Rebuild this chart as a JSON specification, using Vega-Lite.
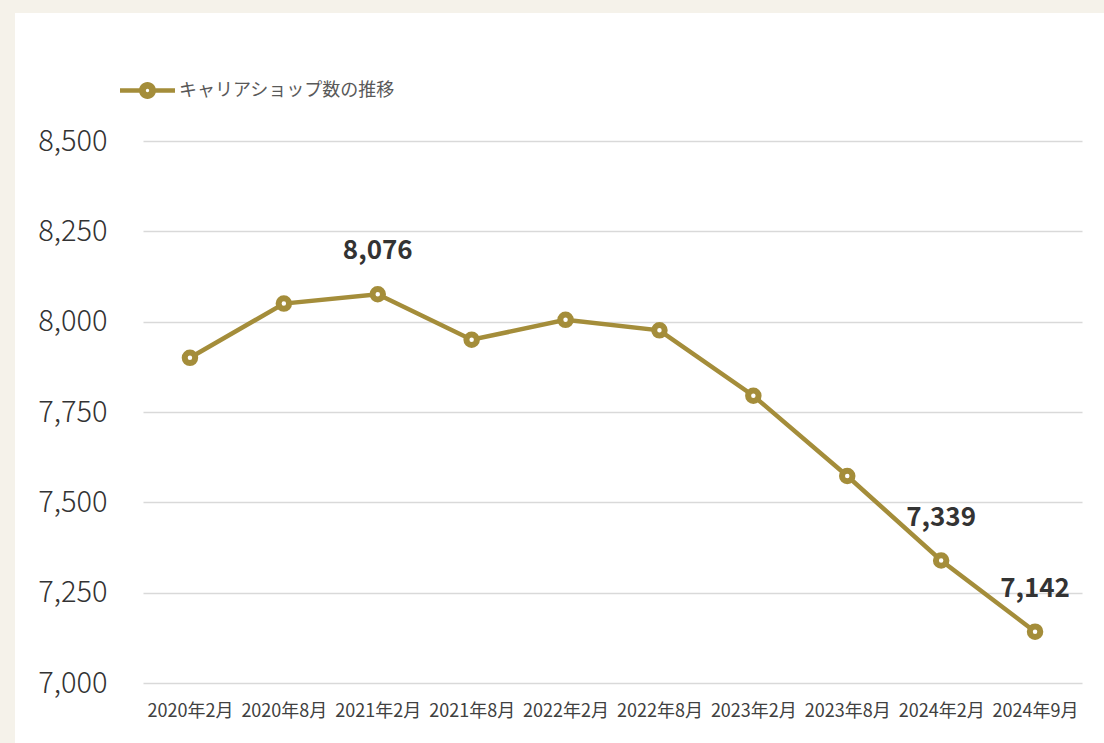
{
  "$schema": "https://vega.github.io/schema/vega-lite/v6.json",
  "width": 939,
  "height": 542,
  "autosize": {"type": "none"},
  "padding": {"left": 143, "top": 141, "right": 22, "bottom": 60},
  "background": "#f5f2ea",
  "view": {"fill": "white", "stroke": "white", "strokeWidth": 256},
  "config": {
    "font": "Noto Sans CJK JP",
    "axis": {"labelFont": "Noto Sans CJK JP"},
    "legend": {"labelFont": "Noto Sans CJK JP"}
  },
  "data": {
    "values": [
      {"period": "2020年2月", "shops": 7900, "series": "キャリアショップ数の推移", "label": ""},
      {"period": "2020年8月", "shops": 8050, "series": "キャリアショップ数の推移", "label": ""},
      {"period": "2021年2月", "shops": 8076, "series": "キャリアショップ数の推移", "label": "8,076"},
      {"period": "2021年8月", "shops": 7950, "series": "キャリアショップ数の推移", "label": ""},
      {"period": "2022年2月", "shops": 8005, "series": "キャリアショップ数の推移", "label": ""},
      {"period": "2022年8月", "shops": 7976, "series": "キャリアショップ数の推移", "label": ""},
      {"period": "2023年2月", "shops": 7795, "series": "キャリアショップ数の推移", "label": ""},
      {"period": "2023年8月", "shops": 7573, "series": "キャリアショップ数の推移", "label": ""},
      {"period": "2024年2月", "shops": 7339, "series": "キャリアショップ数の推移", "label": "7,339"},
      {"period": "2024年9月", "shops": 7142, "series": "キャリアショップ数の推移", "label": "7,142"}
    ]
  },
  "encoding": {
    "x": {
      "field": "period",
      "type": "ordinal",
      "sort": null,
      "scale": {"type": "point", "padding": 0.5},
      "axis": {
        "title": null,
        "labelAngle": 0,
        "ticks": false,
        "domain": false,
        "grid": false,
        "labelFontSize": 18,
        "labelColor": "#404040",
        "labelPadding": 19
      }
    },
    "y": {
      "field": "shops",
      "type": "quantitative",
      "scale": {"domain": [7000, 8500], "nice": false, "zero": false},
      "axis": {
        "title": null,
        "values": [7000, 7250, 7500, 7750, 8000, 8250, 8500],
        "format": ",.0f",
        "ticks": false,
        "domain": false,
        "grid": true,
        "gridColor": "#d9d9d9",
        "gridWidth": 1.5,
        "labelFontSize": 29,
        "labelFontWeight": 300,
        "labelColor": "#333333",
        "labelPadding": 36
      }
    }
  },
  "layer": [
    {
      "mark": {"type": "line", "strokeWidth": 4.5},
      "encoding": {
        "color": {
          "field": "series",
          "type": "nominal",
          "scale": {"range": ["#a48d3a"]},
          "legend": {
            "title": null,
            "orient": "none",
            "legendX": -23,
            "legendY": -78,
            "symbolType": "M-1,-0.085 L-0.3,-0.085 L-0.3,0.085 L-1,0.085 Z M0.3,-0.085 L1,-0.085 L1,0.085 L0.3,0.085 Z M0.31,0 A0.31,0.31 0 1,1 -0.31,0 A0.31,0.31 0 1,1 0.31,0 Z M0.06,0 A0.06,0.06 0 1,0 -0.06,0 A0.06,0.06 0 1,0 0.06,0 Z",
            "symbolSize": 3025,
            "symbolStrokeWidth": 0,
            "labelFontSize": 18,
            "labelLimit": 500,
            "labelColor": "#595959",
            "labelOffset": 4,
            "encode": {
              "symbols": {
                "update": {
                  "fill": {"value": "#a48d3a"},
                  "stroke": {"value": "transparent"},
                  "strokeWidth": {"value": 0},
                  "opacity": {"value": 1}
                }
              }
            }
          }
        }
      }
    },
    {
      "mark": {
        "type": "point",
        "shape": "circle",
        "filled": true,
        "fill": "white",
        "stroke": "#a48d3a",
        "strokeWidth": 6,
        "size": 110,
        "opacity": 1
      }
    },
    {
      "mark": {
        "type": "text",
        "dy": -43,
        "fontSize": 26,
        "fontWeight": "bold",
        "color": "#333333"
      },
      "encoding": {"text": {"field": "label"}}
    }
  ]
}
